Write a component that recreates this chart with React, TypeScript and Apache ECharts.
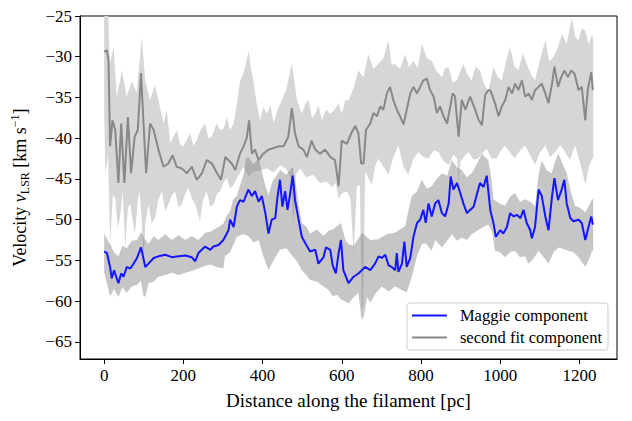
import React, { useEffect, useRef } from "react";
import * as echarts from "echarts";

// Maggie component (blue line)
const maggieDist = [0, 7, 15, 19, 25, 36, 43, 49, 57, 66, 74, 83, 93, 104, 112, 125, 137, 154, 171, 188, 205, 221, 230, 238, 255, 268, 276, 289, 301, 314, 318, 327, 335, 343, 352, 364, 373, 381, 390, 398, 407, 415, 423, 432, 438, 444, 450, 457, 463, 470, 476, 482, 491, 499, 508, 520, 533, 541, 554, 560, 571, 577, 585, 592, 598, 604, 617, 630, 642, 659, 672, 684, 693, 701, 710, 718, 726, 735, 739, 743, 752, 758, 764, 773, 781, 790, 798, 806, 812, 819, 827, 836, 844, 853, 861, 870, 875, 882, 891, 899, 907, 916, 924, 933, 941, 949, 958, 966, 975, 983, 989, 1000, 1008, 1017, 1025, 1034, 1042, 1051, 1059, 1067, 1076, 1080, 1088, 1097, 1105, 1114, 1122, 1131, 1137, 1146, 1154, 1162, 1168, 1177, 1185, 1198, 1206, 1215, 1223, 1230, 1234];
const maggieVel = [-53.9, -54.1, -55.8, -57.2, -56.2, -57.8, -56.6, -57.0, -55.8, -56.0, -55.4, -54.7, -53.4, -55.8, -55.4, -54.7, -54.5, -54.3, -54.6, -54.5, -54.4, -54.6, -55.1, -54.1, -53.3, -53.7, -53.3, -53.1, -52.5, -51.3, -50.0, -50.9, -48.4, -47.6, -47.8, -46.3, -47.1, -46.5, -47.8, -47.1, -49.2, -51.7, -50.0, -49.8, -47.1, -45.1, -48.4, -46.5, -48.8, -46.7, -44.6, -47.6, -50.0, -52.1, -52.9, -53.9, -53.7, -55.4, -54.6, -53.4, -53.7, -55.6, -56.6, -54.1, -52.5, -56.2, -57.8, -57.0, -56.6, -55.8, -56.2, -55.4, -54.5, -54.7, -54.3, -55.6, -55.8, -56.2, -54.1, -56.4, -55.4, -52.7, -55.8, -54.7, -52.1, -50.4, -50.0, -48.8, -50.4, -48.0, -49.6, -48.0, -47.6, -49.2, -49.6, -48.0, -44.7, -46.3, -45.5, -46.7, -48.0, -49.2, -48.8, -48.4, -46.9, -45.5, -46.0, -44.6, -48.8, -50.4, -52.1, -51.3, -51.7, -50.9, -49.2, -49.6, -49.4, -49.8, -48.8, -50.4, -51.3, -52.3, -50.9, -46.3, -47.1, -49.6, -51.3, -47.1, -44.9, -47.6, -46.5, -45.1, -48.0, -49.8, -50.2, -50.0, -50.4, -52.5, -50.9, -49.6, -50.6];

// Second fit component (gray line)
const secondDist = [0, 7, 11, 15, 21, 28, 36, 43, 51, 60, 68, 77, 85, 93, 99, 106, 116, 125, 137, 150, 162, 173, 183, 196, 209, 221, 234, 247, 259, 272, 285, 295, 306, 322, 331, 343, 352, 360, 366, 373, 381, 390, 402, 415, 428, 440, 453, 465, 474, 482, 491, 503, 512, 524, 533, 545, 558, 571, 583, 592, 600, 613, 624, 634, 642, 649, 655, 661, 672, 680, 689, 697, 705, 714, 722, 730, 739, 747, 756, 764, 773, 781, 790, 798, 806, 815, 823, 832, 840, 848, 857, 866, 874, 880, 886, 895, 903, 912, 924, 937, 945, 954, 962, 970, 975, 987, 996, 1004, 1013, 1021, 1030, 1038, 1046, 1055, 1063, 1072, 1080, 1088, 1097, 1105, 1114, 1122, 1131, 1137, 1146, 1154, 1162, 1171, 1179, 1188, 1198, 1206, 1215, 1221, 1230, 1234];
const secondVel = [-29.4, -29.2, -30.4, -41.0, -37.8, -39.0, -45.5, -38.2, -45.5, -37.4, -44.3, -39.8, -39.0, -32.0, -37.8, -44.3, -38.2, -39.0, -41.4, -43.5, -43.1, -42.1, -43.5, -43.7, -44.3, -43.5, -45.1, -44.3, -42.7, -43.1, -44.3, -45.1, -42.3, -43.1, -43.9, -41.9, -41.0, -40.0, -37.8, -41.9, -41.4, -42.7, -41.9, -41.4, -41.2, -41.0, -41.0, -39.8, -36.3, -39.4, -41.0, -41.4, -42.3, -40.3, -41.4, -41.9, -41.4, -42.3, -42.7, -45.9, -40.3, -40.7, -39.4, -38.5, -39.4, -43.1, -43.1, -39.0, -38.2, -36.9, -37.3, -36.1, -36.5, -34.5, -33.7, -35.3, -36.5, -37.3, -38.3, -36.5, -34.5, -33.7, -34.5, -33.7, -32.9, -32.7, -34.1, -34.9, -36.9, -36.1, -37.3, -38.2, -36.1, -34.5, -34.9, -39.8, -35.3, -36.5, -34.9, -36.5, -37.7, -38.4, -34.7, -34.1, -34.1, -35.7, -37.3, -36.1, -35.3, -33.7, -34.5, -33.3, -34.1, -32.9, -34.9, -34.5, -35.3, -34.1, -33.7, -33.3, -34.5, -35.7, -33.3, -31.2, -33.7, -32.5, -31.7, -32.5, -31.7, -32.1, -34.1, -33.7, -37.8, -34.1, -31.9, -34.1];

// Uncertainty band of the second fit component (light gray): [distance, velocity]
const secondBandUpper = [[0, -24], [10, -24], [14, -31], [24, -28.8], [32, -34.9], [45, -31.7], [57, -34.9], [70, -33], [82, -34.4], [95, -27.6], [104, -33], [116, -35.3], [128, -33.5], [137, -35.3], [150, -38.2], [158, -36.5], [167, -40.6], [184, -39], [192, -40.8], [200, -41], [217, -39.4], [226, -41], [234, -40.2], [245, -38.8], [255, -38.2], [263, -40], [272, -39.8], [284, -38.2], [293, -39], [302, -38.8], [310, -37.4], [318, -39], [327, -38.2], [336, -35.5], [343, -33], [352, -32], [365, -29.3], [371, -31.5], [377, -33], [386, -36], [394, -37.8], [402, -36.2], [411, -37], [420, -36], [428, -38.2], [438, -36.5], [449, -35.3], [460, -34], [474, -30.8], [480, -33], [487, -35.3], [499, -37], [508, -35.8], [516, -35.3], [525, -37.5], [533, -37], [541, -36], [550, -37.8], [560, -36.5], [571, -37], [582, -36.5], [592, -35.7], [600, -37], [609, -35.3], [617, -35.4], [630, -33.8], [642, -31.7], [655, -32.5], [667, -29.7], [680, -31.5], [692, -30.9], [705, -30.2], [718, -28], [726, -31], [734, -30.9], [747, -31.5], [760, -29.7], [770, -31.3], [781, -30.5], [792, -31.4], [802, -28.4], [815, -30.2], [827, -30.5], [840, -31.8], [853, -32.5], [861, -31.4], [870, -31.3], [880, -33.2], [891, -32.9], [899, -31.8], [907, -30.9], [918, -32.2], [928, -32.9], [938, -31.2], [949, -31.7], [960, -33.4], [970, -34.2], [983, -31.3], [994, -32.5], [1004, -32.9], [1015, -30.5], [1025, -28.8], [1036, -31.2], [1046, -31.7], [1057, -29.6], [1067, -30.9], [1078, -32.2], [1088, -32.9], [1100, -30.5], [1114, -28], [1124, -30.6], [1135, -30], [1146, -28.8], [1156, -27.2], [1168, -28.4], [1181, -25.2], [1190, -27.6], [1198, -28], [1206, -26.5], [1215, -26.8], [1224, -28.5], [1232, -27.2], [1235, -28]];
const secondBandLower = [[0, -36.5], [3, -44.4], [10, -42], [15, -53], [22, -47], [28, -47.3], [34, -51], [40, -49.7], [47, -46.5], [53, -53.4], [60, -48.5], [66, -48.1], [72, -50], [78, -51.8], [84, -48], [89, -46.5], [95, -50], [99, -55.9], [104, -50.5], [112, -48.1], [120, -50.5], [129, -49.7], [137, -47.5], [146, -46.5], [154, -49], [162, -48.1], [171, -47], [179, -46.5], [188, -48.5], [196, -48.1], [205, -46.8], [213, -46.1], [222, -47.5], [230, -48.1], [242, -50.2], [250, -47.5], [259, -46.5], [268, -48.4], [276, -48.1], [285, -46.8], [293, -46.5], [301, -45.5], [310, -44.9], [318, -46.2], [327, -45.7], [340, -44.5], [352, -43.5], [364, -44.7], [377, -44.1], [394, -44], [411, -43.7], [428, -44.2], [445, -43.3], [460, -43.8], [472, -45], [478, -50.6], [484, -44.5], [495, -43.7], [510, -44.8], [528, -44.5], [545, -45.5], [562, -45.3], [575, -46], [585, -45.5], [592, -47.5], [600, -46.8], [613, -46.5], [622, -47.5], [630, -54.2], [638, -46], [646, -45.7], [650, -61], [654, -60.5], [659, -44.1], [668, -45], [676, -45.7], [684, -43.5], [692, -42.5], [705, -43.5], [718, -44.5], [730, -42.4], [743, -40.9], [756, -43.5], [768, -44.5], [781, -42.5], [794, -41.7], [806, -42.3], [819, -42.5], [832, -41.5], [844, -41.7], [857, -42.8], [870, -43.3], [882, -42], [891, -42.5], [895, -45.5], [900, -42.8], [920, -41.7], [932, -42.6], [945, -42.5], [956, -41.8], [966, -41.3], [978, -42.5], [991, -42.5], [1002, -41.5], [1012, -40.9], [1025, -41.8], [1037, -42.5], [1050, -41.5], [1063, -40.9], [1075, -42], [1088, -43.3], [1100, -41.8], [1114, -40.9], [1126, -42.3], [1139, -41.7], [1152, -40.8], [1164, -41.7], [1176, -42.6], [1189, -40.9], [1202, -43], [1215, -45.7], [1224, -43.5], [1232, -42.5], [1235, -42.5]];

// Uncertainty band of the Maggie component (darker gray): [distance, velocity]
const maggieBandUpper = [[0, -51.7], [8, -52.5], [15, -53], [25, -54], [36, -54.5], [46, -53.2], [57, -53.5], [70, -52.6], [83, -52.5], [93, -51.5], [102, -52.3], [112, -53], [125, -52], [137, -52.5], [154, -51.8], [171, -52.5], [188, -51.9], [205, -52.5], [221, -52], [238, -52.5], [255, -51.6], [268, -51.5], [285, -51], [301, -50.5], [310, -49.5], [318, -49], [326, -47.5], [335, -47.1], [343, -45.8], [352, -44.5], [358, -42.5], [364, -42.3], [377, -43.2], [390, -42.5], [400, -44.5], [408, -46], [415, -47], [425, -45.3], [435, -44.6], [444, -43.9], [460, -44.5], [476, -43.5], [485, -46], [492, -48.5], [499, -50.4], [510, -50.8], [520, -51.7], [537, -51.2], [554, -52], [566, -51.4], [577, -51.2], [588, -50.8], [598, -50.4], [609, -52.5], [617, -53], [630, -53.2], [651, -51.6], [672, -52.5], [692, -52.4], [713, -51.8], [734, -51.6], [760, -50.8], [770, -48.5], [777, -47.1], [790, -46.5], [802, -45.1], [815, -46.2], [827, -45.9], [840, -45], [853, -44.3], [866, -44.6], [878, -42.7], [891, -43.6], [903, -43.9], [916, -44.8], [928, -44.3], [941, -43.2], [954, -41.9], [970, -42.7], [978, -45], [983, -47.5], [998, -48], [1012, -48.3], [1025, -47.2], [1037, -46.7], [1050, -47.8], [1063, -47.5], [1076, -47.8], [1088, -48.3], [1097, -44.5], [1105, -42.7], [1118, -44], [1130, -44.3], [1139, -42.8], [1147, -41.9], [1158, -43.2], [1168, -44.3], [1178, -46.5], [1189, -48.3], [1200, -48.5], [1215, -49.1], [1225, -48.2], [1232, -47.5], [1235, -47.5]];
const maggieBandLower = [[0, -56.5], [8, -58], [15, -59.4], [25, -58.5], [36, -59.5], [46, -58.3], [57, -59], [70, -58.2], [83, -58], [93, -57.5], [99, -59.3], [104, -59.5], [112, -57.8], [125, -57.6], [137, -57], [154, -56.8], [171, -56.5], [188, -56.8], [205, -56.5], [221, -56.3], [238, -56], [255, -55.7], [268, -55.5], [285, -55.8], [301, -56], [305, -54.5], [318, -54], [335, -52.1], [350, -51.8], [364, -52], [377, -52.8], [390, -52.5], [402, -54.5], [415, -56.2], [430, -54.8], [444, -53.7], [460, -53.5], [476, -54.5], [488, -55.2], [499, -56.2], [510, -56.8], [520, -57.4], [537, -57.6], [554, -58.2], [566, -58.6], [577, -59.4], [588, -59.2], [598, -59.8], [608, -60], [617, -60.3], [630, -59.5], [642, -59], [650, -62.3], [656, -61.8], [664, -59.5], [672, -60.2], [686, -59], [701, -58.2], [718, -58.8], [735, -58.2], [750, -58.6], [764, -58.9], [777, -57], [790, -54.5], [802, -53], [812, -52.9], [827, -53.8], [836, -52.5], [853, -53.4], [866, -52.6], [878, -51.8], [891, -52.6], [903, -52.2], [916, -52.5], [928, -51.8], [941, -51.4], [954, -51], [970, -50.6], [980, -51.5], [987, -53.8], [1000, -54], [1012, -54.6], [1025, -54], [1037, -53.8], [1050, -54.6], [1063, -54.5], [1071, -55.4], [1084, -54.8], [1097, -53.8], [1110, -54.6], [1122, -55.4], [1135, -54], [1147, -53.4], [1160, -53.6], [1172, -53.8], [1185, -54], [1198, -54.6], [1215, -55.8], [1225, -54.8], [1232, -53.8], [1235, -53.8]];

const xTicks = [0, 200, 400, 600, 800, 1000, 1200];
const yTicks = [-65, -60, -55, -50, -45, -40, -35, -30, -25];

const FONT = "'Liberation Serif', 'DejaVu Serif', serif";

const zip = (xs: number[], ys: number[]) => xs.map((x, i) => [x, ys[i]]);
const fmt = (v: number) => (v < 0 ? "\u2212" + Math.abs(v) : String(v));

function bandSeries(upper: number[][], lowerIn: number[][], color: string, z: number) {
  const lower = lowerIn.slice().reverse();
  return {
    type: "custom",
    silent: true,
    clip: true,
    z,
    data: [upper[0]],
    renderItem: (_params: any, api: any) => {
      const pts = upper.concat(lower).map((p) => api.coord(p));
      return {
        type: "polygon",
        shape: { points: pts },
        style: { fill: color, stroke: "none" },
      };
    },
  };
}

export default function App() {
  const ref = useRef<HTMLDivElement>(null);
  useEffect(() => {
    if (!ref.current) return;
    const chart = echarts.init(ref.current, undefined, { renderer: "svg" });
    chart.setOption({
      animation: false,
      grid: { left: 80, right: 15, top: 16, bottom: 62, show: true, borderColor: "#000", borderWidth: 1, backgroundColor: "transparent" },
      legend: {
        data: ["Maggie component", "second fit component"],
        orient: "vertical",
        right: 24,
        bottom: 71,
        icon: "rect",
        itemWidth: 35,
        itemHeight: 2,
        itemGap: 5,
        padding: [4, 6, 4, 5],
        backgroundColor: "rgba(255,255,255,0.85)",
        borderColor: "#cccccc",
        borderWidth: 1,
        borderRadius: 3,
        textStyle: { fontFamily: FONT, fontSize: 16.5, color: "#000", padding: [0, 0, 0, 8] },
      },
      xAxis: {
        type: "value",
        min: -61,
        max: 1295,
        name: "Distance along the filament [pc]",
        nameLocation: "middle",
        nameGap: 32,
        nameTextStyle: { fontFamily: FONT, fontSize: 19, color: "#000" },
        axisLine: { show: true, onZero: false, lineStyle: { color: "#000", width: 1 } },
        axisTick: { show: true, inside: false, length: 5, lineStyle: { color: "#000" }, customValues: xTicks },
        axisLabel: { fontFamily: FONT, fontSize: 17, color: "#000", margin: 8, customValues: xTicks, formatter: fmt },
        splitLine: { show: false },
      },
      yAxis: {
        type: "value",
        min: -67.1,
        max: -25,
        name: "{t|Velocity }{i|v}{s|LSR}{t| [km s}{p|\u22121}{t|]}",
        nameLocation: "middle",
        nameGap: 49,
        nameTextStyle: {
          fontFamily: FONT,
          fontSize: 18,
          color: "#000",
          rich: {
            t: { fontFamily: FONT, fontSize: 18, color: "#000", lineHeight: 22 },
            i: { fontFamily: FONT, fontSize: 18, fontStyle: "italic", color: "#000", lineHeight: 22 },
            s: { fontFamily: FONT, fontSize: 12, color: "#000", lineHeight: 14, verticalAlign: "bottom" },
            p: { fontFamily: FONT, fontSize: 12, color: "#000", lineHeight: 12, verticalAlign: "top" },
          },
        },
        axisLine: { show: true, onZero: false, lineStyle: { color: "#000", width: 1 } },
        axisTick: { show: true, inside: false, length: 5, lineStyle: { color: "#000" }, customValues: yTicks },
        axisLabel: { fontFamily: FONT, fontSize: 17, color: "#000", margin: 8, customValues: yTicks, formatter: fmt },
        splitLine: { show: false },
      },
      series: [
        bandSeries(secondBandUpper, secondBandLower, "#d6d6d6", 1),
        bandSeries(maggieBandUpper, maggieBandLower, "rgba(128,128,128,0.45)", 2),
        {
          name: "second fit component",
          type: "line",
          z: 3,
          data: zip(secondDist, secondVel),
          showSymbol: false,
          symbol: "none",
          color: "#888888",
          lineStyle: { color: "#888888", width: 2 },
          itemStyle: { color: "#888888" },
        },
        {
          name: "Maggie component",
          type: "line",
          z: 4,
          data: zip(maggieDist, maggieVel),
          showSymbol: false,
          symbol: "none",
          color: "#1515ff",
          lineStyle: { color: "#1515ff", width: 2 },
          itemStyle: { color: "#1515ff" },
        },
      ],
    });
    return () => chart.dispose();
  }, []);
  return <div ref={ref} style={{ position: "absolute", left: 0, top: 0, width: 632, height: 421 }} />;
}
